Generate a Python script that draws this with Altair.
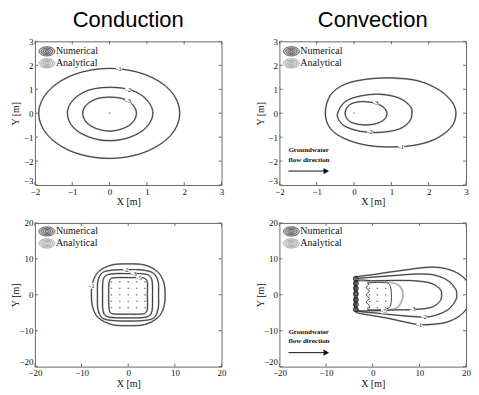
import altair as alt
import pandas as pd

# ---------------- values ----------------
# Panel A  (Conduction, X/Y in m)
A_M1_X = [1.88, 1.63, 0.94, 0.00, -0.94, -1.63, -1.90, -1.64, -0.95, 0.00, 0.94, 1.63]
A_M1_Y = [0.00, 0.94, 1.62, 1.87, 1.62, 0.94, 0.00, -0.95, -1.64, -1.89, -1.63, -0.94]
A_M2_X = [1.16, 0.99, 0.57, 0.00, -0.56, -0.98, -1.13, -0.98, -0.56, 0.00, 0.57, 0.99]
A_M2_Y = [0.00, 0.57, 0.97, 1.08, 0.96, 0.55, 0.00, -0.58, -0.99, -1.15, -0.99, -0.58]
A_M3_X = [0.72, 0.62, 0.36, 0.00, -0.35, -0.62, -0.72, -0.62, -0.36, 0.00, 0.36, 0.62]
A_M3_Y = [0.00, 0.35, 0.60, 0.67, 0.60, 0.35, 0.00, -0.38, -0.64, -0.75, -0.64, -0.38]
A_LAB = ["-1", "-2", "-3"]
A_LAB_X = [0.25, 0.50, 0.50]
A_LAB_Y = [1.84, 0.98, 0.50]

# Panel B  (Convection, X/Y in m)
B_M1_X = [-0.77, -0.63, -0.24, 0.35, 1.04, 1.72, 2.28, 2.62, 2.73, 2.62, 2.24, 1.72, 1.04, 0.35, -0.24, -0.63]
B_M1_Y = [0.00, 0.76, 1.21, 1.42, 1.47, 1.35, 0.97, 0.48, 0.00, -0.55, -1.03, -1.31, -1.41, -1.34, -1.07, -0.65]
B_M2_X = [-0.44, -0.24, 0.18, 0.70, 1.21, 1.51, 1.55, 1.49, 1.21, 0.70, 0.18, -0.24, -0.41]
B_M2_Y = [0.00, 0.48, 0.72, 0.79, 0.63, 0.28, 0.00, -0.34, -0.66, -0.80, -0.76, -0.55, -0.28]
B_M3_X = [-0.24, -0.12, 0.18, 0.53, 0.78, 0.88, 0.80, 0.53, 0.18, -0.12]
B_M3_Y = [0.00, 0.35, 0.48, 0.43, 0.26, 0.00, -0.28, -0.46, -0.48, -0.34]
B_LAB = ["-3", "-2", "-1"]
B_LAB_X = [0.58, 0.43, 1.27]
B_LAB_Y = [0.42, -0.79, -1.41]

# Panel C  (Conduction, borehole field)
C_M1_X = [7.9, 7.6, 6.3, 3.5, 0.0, -3.5, -6.3, -7.6, -7.9, -7.6, -6.4, -3.5, 0.0, 3.5, 6.3, 7.6]
C_M1_Y = [0.0, 3.5, 6.4, 8.3, 8.6, 8.3, 6.5, 3.5, 0.0, -3.6, -6.4, -8.3, -8.6, -8.3, -6.4, -3.6]
C_M2_X = [6.5, 6.4, 5.3, 3.0, 0.0, -3.0, -5.5, -6.5, -6.6, -6.5, -5.5, -3.0, 0.0, 3.0, 5.4, 6.4]
C_M2_Y = [0.0, 3.8, 6.1, 6.9, 7.0, 6.9, 6.2, 3.8, 0.0, -4.0, -6.5, -7.2, -7.3, -7.2, -6.5, -4.0]
C_M3_X = [5.2, 5.1, 4.3, 2.5, 0.0, -2.5, -4.6, -5.4, -5.5, -5.4, -4.6, -2.5, 0.0, 2.5, 4.3, 5.1]
C_M3_Y = [0.0, 4.0, 5.5, 5.9, 5.9, 5.9, 5.5, 4.0, 0.0, -4.5, -6.0, -6.4, -6.4, -6.4, -6.0, -4.5]
C_M5_X = [4.1, 4.1, 3.5, 2.0, 0.0, -2.0, -3.6, -4.1, -4.2, -4.1, -3.6, -2.0, 0.0, 2.0, 3.5, 4.1]
C_M5_Y = [0.0, 3.5, 4.6, 4.8, 4.8, 4.8, 4.6, 3.5, 0.0, -4.0, -5.2, -5.4, -5.4, -5.4, -5.2, -4.0]
C_LAB = ["-1", "-2", "-3", "-5"]
C_LAB_X = [-7.8, -0.5, 1.2, 2.3]
C_LAB_Y = [2.5, 7.0, 5.9, 4.8]
C_DOT_X = [-3.6, -1.8, 0.0, 1.8, 3.6]
C_DOT_Y = [-3.6, -1.8, 0.0, 1.8, 3.6]

# Panel D  (Convection, borehole field)
D_M1_X = [-3.9, -3.8, -3.3, 0.0, 3.5, 7.0, 10.3, 13.0, 15.9, 18.5, 20.3, 20.8, 20.3, 18.5, 15.9, 13.0, 10.0, 7.0, 3.5, 0.0, -3.3, -3.8]
D_M1_Y = [0.0, 4.0, 5.0, 5.6, 6.3, 6.9, 7.5, 7.7, 7.2, 5.8, 3.5, 0.0, -3.5, -6.0, -7.6, -8.2, -8.3, -7.6, -6.6, -5.8, -5.0, -4.0]
D_M2_X = [-3.6, -3.6, -3.0, 0.0, 5.0, 10.0, 13.5, 16.3, 17.8, 18.0, 17.8, 16.3, 13.5, 11.0, 7.0, 3.0, 0.0, -3.0, -3.6]
D_M2_Y = [0.0, 4.2, 4.6, 4.9, 5.4, 5.8, 5.4, 3.8, 1.5, 0.0, -1.5, -4.0, -5.7, -6.2, -5.9, -5.4, -5.0, -4.6, -4.2]
D_M3_X = [-3.3, -3.3, 0.0, 5.0, 9.0, 12.3, 14.3, 14.8, 14.3, 12.3, 8.6, 5.0, 0.0, -3.3]
D_M3_Y = [0.0, 3.8, 3.9, 4.0, 3.9, 3.3, 1.8, 0.0, -2.0, -3.6, -4.1, -4.2, -4.4, -4.1]
D_M5A_X = [-3.5, -3.5, 0.0, 4.0, 5.8, 6.5, 5.9, 4.5, 0.0, -3.5]
D_M5A_Y = [0.0, 3.7, 3.6, 3.4, 2.4, 0.0, -2.6, -4.0, -4.5, -4.3]
D_M5N_X = [-1.0, 2.0, 3.6, 4.0, 3.7, 2.0, -1.0, -0.7, -1.4, -0.7, -1.4, -0.7, -1.4, -0.8]
D_M5N_Y = [3.3, 3.4, 2.9, 0.0, -3.3, -4.1, -4.1, -3.0, -2.0, -1.0, 0.0, 1.0, 2.0, 3.0]
D_LAB = ["-5", "-3", "-2", "-1"]
D_LAB_X = [2.4, 8.6, 11.0, 10.0]
D_LAB_Y = [-4.4, -4.0, -6.1, -8.3]
D_DOT_X = [-0.7, 1.0, 2.8]
D_DOT_Y = [-3.6, -1.8, 0.0, 1.8, 3.6]
D_RING_X = [-3.6] * 7
D_RING_Y = [4.5, 3.2, 1.8, 0.3, -1.4, -2.7, -4.1]

TICKS_SMALL_X = [-2, -1, 0, 1, 2, 3]
TICKS_SMALL_Y = [-3, -2, -1, 0, 1, 2, 3]
TICKS_BIG = [-20, -10, 0, 10, 20]
LEGEND = ["Numerical", "Analytical"]
TITLES = ["Conduction", "Convection"]
FLOW = ["Groundwater", "flow direction"]

# ---------------- styling ----------------
SERIF = "Liberation Serif"
SANS = "Liberation Sans"
DARK = "#2e2e2e"
GRAY = "#b4b4b4"
AXC = "#6a6a6a"
W = 187
ELL = ("M-1,0C-1,-0.32,-0.55,-0.58,0,-0.58C0.55,-0.58,1,-0.32,1,0"
       "C1,0.32,0.55,0.58,0,0.58C-0.55,0.58,-1,0.32,-1,0Z")


def curves_df(curves):
    rows = []
    for cid, (xs, ys) in enumerate(curves):
        for i, (x, y) in enumerate(zip(xs, ys)):
            rows.append({"c": cid, "i": i, "x": x, "y": y})
    return pd.DataFrame(rows)


def one():
    return pd.DataFrame({"a": [0]})


def panel(xdom, ydom, xt, yt, h, both, dark_only, gray_only, labs,
          dots=None, rings=None, center=False, flow=False, title=None, leg_y=10):
    xs = alt.Scale(domain=xdom, nice=False, zero=False)
    ys = alt.Scale(domain=ydom, nice=False, zero=False)
    X = alt.X("x:Q", scale=xs, axis=alt.Axis(values=xt, title="X [m]", labelFlush=False,
                                              labelOverlap=False))
    Y = alt.Y("y:Q", scale=ys, axis=alt.Axis(
        values=yt, title="Y [m]", labelFlush=False, labelOverlap=False, titleX=-14,
        labelBaseline={"condition": {"test": f"datum.value == {yt[0]}", "value": "bottom"},
                       "value": "middle"}))
    layers = []
    g = curves_df(both + gray_only)
    layers.append(alt.Chart(g).mark_line(color=GRAY, strokeWidth=1.8, interpolate="cardinal-closed",
                                         clip=True).encode(x=X, y=Y, detail="c:N", order="i:Q"))
    d = curves_df(both + dark_only)
    layers.append(alt.Chart(d).mark_line(color=DARK, strokeWidth=0.9, interpolate="cardinal-closed",
                                         clip=True).encode(x=X, y=Y, detail="c:N", order="i:Q"))
    ldf = pd.DataFrame({"t": labs[0], "x": labs[1], "y": labs[2]})
    layers.append(alt.Chart(ldf).mark_point(shape="square", filled=True, color="white", opacity=1,
                                            size=34).encode(x=X, y=Y))
    layers.append(alt.Chart(ldf).mark_text(font=SERIF, fontSize=7, color="#222").encode(
        x=X, y=Y, text="t:N"))
    if dots is not None:
        pts = pd.DataFrame([{"x": a, "y": b} for a in dots[0] for b in dots[1]])
        layers.append(alt.Chart(pts).mark_point(filled=True, color="#888", size=3, opacity=1).encode(
            x=X, y=Y))
    if rings is not None:
        rdf = pd.DataFrame({"x": rings[0], "y": rings[1]})
        layers.append(alt.Chart(rdf).mark_point(filled=False, color=DARK, strokeWidth=1.1, size=20,
                                                opacity=1).encode(x=X, y=Y))
    if center:
        layers.append(alt.Chart(pd.DataFrame({"x": [0], "y": [0]})).mark_point(
            filled=True, color="#999", size=3, opacity=1).encode(x=X, y=Y))
    # legend
    for k, (lab, fill, ring) in enumerate(zip(LEGEND, ["#c4c4c4", "#e2e2e2"], ["#4a4a4a", "#9c9c9c"])):
        yy = leg_y + 12 * k
        layers.append(alt.Chart(one()).mark_point(shape=ELL, filled=True, color=fill, size=256,
                                                  opacity=1).encode(x=alt.value(12), y=alt.value(yy)))
        for s in [256, 130, 50, 12]:
            layers.append(alt.Chart(one()).mark_point(shape=ELL, filled=False, color=ring, size=s,
                                                      strokeWidth=0.8, opacity=1).encode(
                x=alt.value(12), y=alt.value(yy)))
        layers.append(alt.Chart(one()).mark_text(font=SERIF, fontSize=10, align="left", color="#111",
                                                 baseline="middle").encode(
            x=alt.value(21), y=alt.value(yy), text=alt.value(lab)))
    if flow:
        for k, t in enumerate(FLOW):
            layers.append(alt.Chart(one()).mark_text(font=SERIF, fontSize=7, fontWeight="bold",
                                                     align="left", baseline="middle",
                                                     color="#111").encode(
                x=alt.value(9), y=alt.value(h - 35 + 9.5 * k), text=alt.value(t)))
        layers.append(alt.Chart(one()).mark_rule(color="#111", strokeWidth=1).encode(
            x=alt.value(9), x2=alt.value(46), y=alt.value(h - 14), y2=alt.value(h - 14)))
        layers.append(alt.Chart(one()).mark_point(shape="triangle-right", filled=True, color="#111",
                                                  size=40, opacity=1).encode(
            x=alt.value(47), y=alt.value(h - 14)))
    # inward ticks on all four sides (box style)
    txd = pd.DataFrame({"x": xt})
    tyd = pd.DataFrame({"y": yt})
    layers.append(alt.Chart(txd).mark_rule(color=AXC).encode(x=X, y=alt.value(h), y2=alt.value(h - 3)))
    layers.append(alt.Chart(txd).mark_rule(color=AXC).encode(x=X, y=alt.value(0), y2=alt.value(3)))
    layers.append(alt.Chart(tyd).mark_rule(color=AXC).encode(y=Y, x=alt.value(0), x2=alt.value(3)))
    layers.append(alt.Chart(tyd).mark_rule(color=AXC).encode(y=Y, x=alt.value(W), x2=alt.value(W - 3)))
    ch = alt.layer(*layers).properties(width=W, height=h)
    if title:
        ch = ch.properties(title=alt.Title(title, font=SANS, fontSize=22, fontWeight="normal",
                                           color="#000", anchor="middle", offset=5))
    return ch


A = panel([-2, 3], [-3, 3], TICKS_SMALL_X, TICKS_SMALL_Y, 144,
          [(A_M1_X, A_M1_Y), (A_M2_X, A_M2_Y), (A_M3_X, A_M3_Y)], [], [],
          (A_LAB, A_LAB_X, A_LAB_Y), center=True, title=TITLES[0], leg_y=10)
B = panel([-2, 3], [-3, 3], TICKS_SMALL_X, TICKS_SMALL_Y, 144,
          [(B_M1_X, B_M1_Y), (B_M2_X, B_M2_Y), (B_M3_X, B_M3_Y)], [], [],
          (B_LAB, B_LAB_X, B_LAB_Y), center=True, flow=True, title=TITLES[1], leg_y=10)
C = panel([-20, 20], [-20, 20], TICKS_BIG, TICKS_BIG, 144,
          [(C_M1_X, C_M1_Y), (C_M2_X, C_M2_Y), (C_M3_X, C_M3_Y), (C_M5_X, C_M5_Y)], [], [],
          (C_LAB, C_LAB_X, C_LAB_Y), dots=(C_DOT_X, C_DOT_Y), leg_y=8.5)
D = panel([-20, 20], [-20, 20], TICKS_BIG, TICKS_BIG, 144,
          [(D_M1_X, D_M1_Y), (D_M2_X, D_M2_Y), (D_M3_X, D_M3_Y)], [(D_M5N_X, D_M5N_Y)],
          [(D_M5A_X, D_M5A_Y)], (D_LAB, D_LAB_X, D_LAB_Y), dots=(D_DOT_X, D_DOT_Y),
          rings=(D_RING_X, D_RING_Y), flow=True, leg_y=8.5)

chart = alt.concat(A, B, C, D, columns=2, spacing={"row": 10, "column": 28}).configure_view(
    stroke=AXC, strokeWidth=1
).configure_axis(
    labelFont=SERIF, labelFontSize=9, labelColor="#111", titleFont=SERIF, titleFontSize=10,
    titleFontWeight="normal", titleColor="#111", domain=False, ticks=False, grid=False,
    labelPadding=2, titlePadding=1
).properties(
    padding={"left": 2, "top": 0, "right": 0, "bottom": 0}, background="white"
)

chart.save("out.html", embed_options={"renderer": "svg", "actions": False})
